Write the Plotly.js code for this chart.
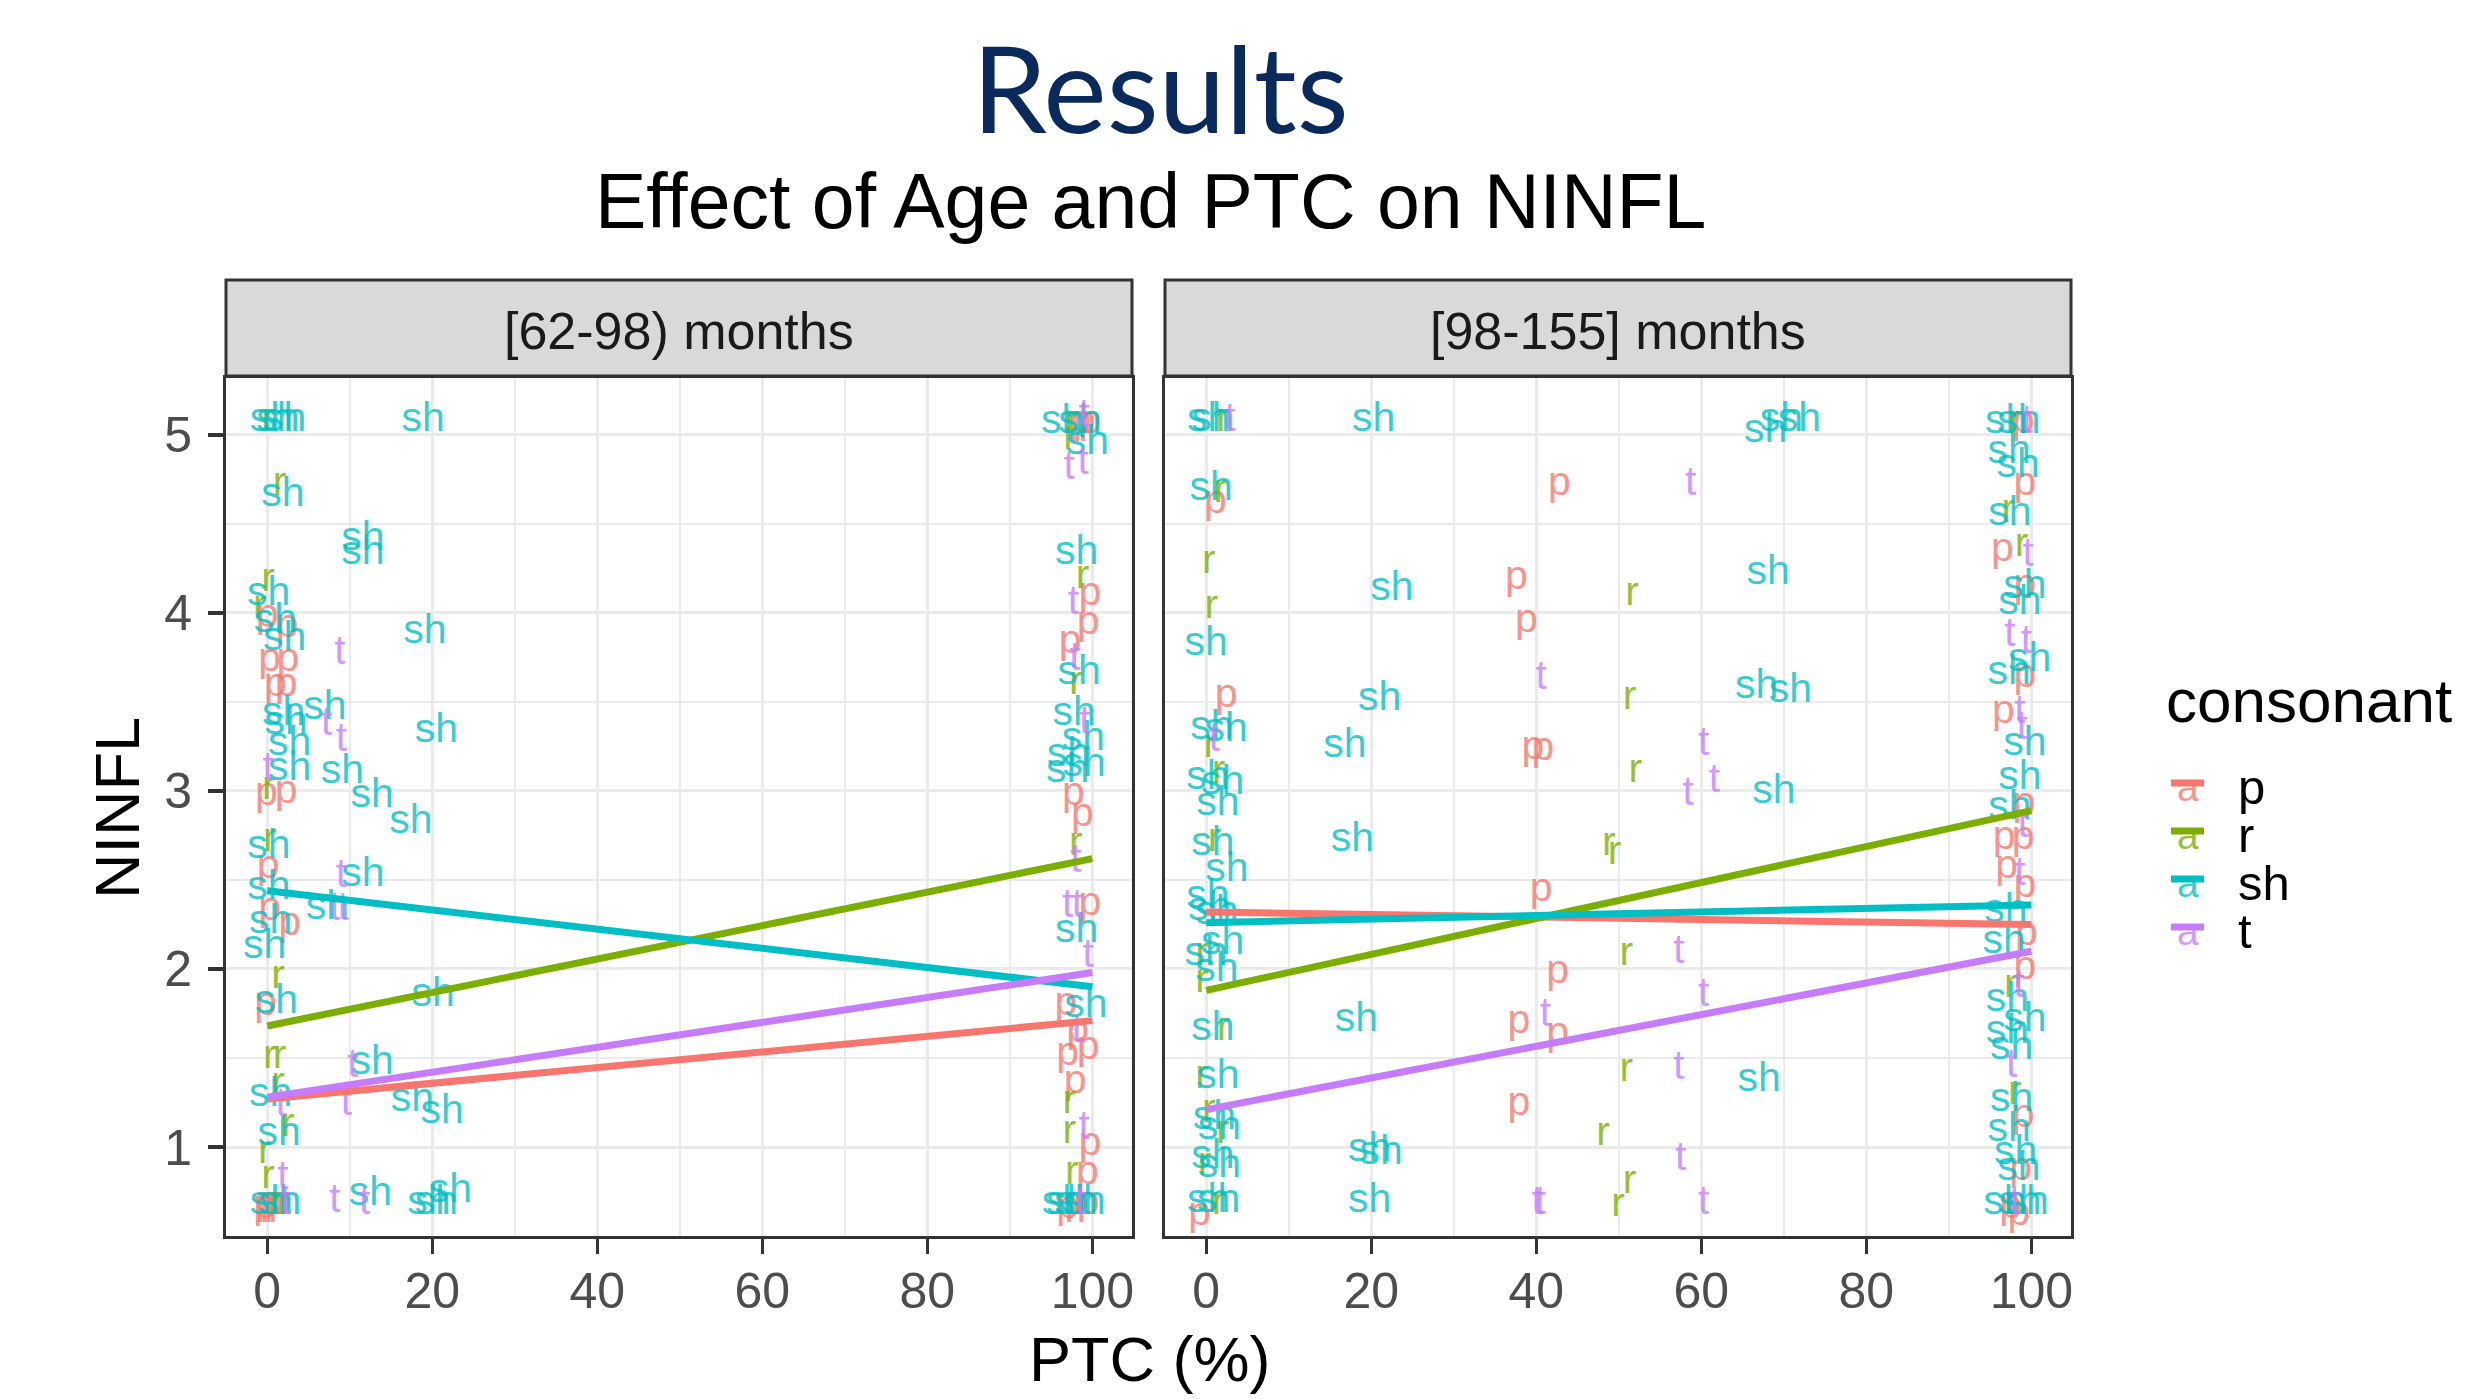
<!DOCTYPE html>
<html><head><meta charset="utf-8">
<script src="https://cdn.plot.ly/plotly-3.0.1.min.js"></script>
<style>html,body{margin:0;padding:0;background:#fff;} #chart{width:2473px;height:1399px;}</style>
</head><body><div id="chart"></div>
<script>
// ---------------- DATA ----------------
const consonants = ['p', 'r', 'sh', 't'];
const panelLabels = ['[62-98) months', '[98-155] months'];
const xTicks = [0, 20, 40, 60, 80, 100];
const yTicks = [1, 2, 3, 4, 5];

// Panel 1: [62-98) months
const young_p_x = [0, 2.4, 0.3, 2.5, 1.0, 2.3, -0.1, 2.3, 0.1, 0.3, 2.7, -0.2, 0, 1.0, -0.3, 0.5, 1.5, 99, 99.7, 98.5, 99.7, 99.5, 97.3, 97.7, 98.8, 99.7, 96.8, 98.2, 99.5, 97.0, 97.9, 99.7, 99.4, 98, 99.5, 97];
const young_p_y = [3.98, 3.92, 3.73, 3.73, 3.59, 3.59, 2.98, 2.99, 2.57, 2.33, 2.25, 1.80, 0.68, 0.68, 0.66, 0.68, 0.68, 5.07, 5.07, 5.07, 4.10, 3.94, 3.83, 2.98, 2.86, 2.36, 1.80, 1.65, 1.55, 1.52, 1.36, 1.01, 0.85, 0.68, 0.68, 0.66];
const young_r_x = [0.1, 1.5, 0.1, -0.9, 0.2, 0.3, 1.3, 0.3, 1.5, 1.3, 2.5, -0.3, 0.1, 1.0, 2.0, 97.5, 98.8, 98.0, 98.0, 97.2, 97.2, 97.5, 98.5, 97.3];
const young_r_y = [5.08, 4.72, 4.18, 4.03, 3.01, 2.72, 1.95, 1.50, 1.50, 1.35, 1.12, 0.97, 0.83, 0.68, 0.68, 5.07, 4.20, 3.60, 2.70, 1.25, 1.08, 0.85, 0.68, 4.98];
const young_sh_x = [0.5, 1.3, 2.1, 18.9, 1.9, 11.6, 11.6, 0.16, 1.0, 2.1, 19.1, 2.0, 2.3, 7.0, 2.7, 20.5, 2.7, 9.1, 12.7, 17.4, 0.2, 11.6, 0.2, 7.3, 0.4, -0.3, 1.1, 20.1, 12.7, 0.4, 17.6, 21.2, 1.45, 0.5, 1.5, 12.5, 19.6, 20.5, 22.2, 96.4, 98.5, 99.4, 98.1, 98.4, 97.8, 98.9, 97.1, 99.0, 97.0, 98.1, 99.2, 97.0, 98.0, 99.0, 96.5];
const young_sh_y = [5.08, 5.08, 5.08, 5.08, 4.66, 4.41, 4.33, 4.10, 3.95, 3.85, 3.89, 3.43, 3.38, 3.46, 3.26, 3.33, 3.12, 3.10, 2.97, 2.82, 2.68, 2.525, 2.45, 2.34, 2.26, 2.12, 1.81, 1.85, 1.47, 1.29, 1.26, 1.19, 1.07, 0.68, 0.68, 0.73, 0.68, 0.68, 0.75, 5.07, 5.07, 4.95, 4.33, 3.66, 3.43, 3.29, 3.20, 3.14, 3.11, 2.21, 1.79, 0.68, 0.68, 0.68, 0.68];
const young_t_x = [8.8, 7.2, 9.0, 0.1, 9.0, 8.2, 9.2, 10.4, 9.6, 1.7, 1.9, 8.2, 11.8, 2.2, 99.0, 97.2, 98.9, 97.7, 97.9, 99.1, 98.0, 97.0, 98.2, 99.5, 98.2, 99.0, 98.5];
const young_t_y = [3.77, 3.37, 3.28, 3.12, 2.52, 2.33, 2.33, 1.45, 1.24, 1.23, 0.82, 0.69, 0.68, 0.68, 5.10, 4.81, 4.84, 4.05, 3.74, 3.38, 2.60, 2.35, 2.35, 2.07, 1.65, 1.10, 0.68];

// Panel 2: [98-155] months
const old_p_x = [1.1, 2.4, -0.8, 42.8, 37.6, 38.8, 39.6, 40.8, 40.6, 42.6, 37.9, 42.6, 37.9, 99.0, 99.2, 96.5, 99.2, 99.2, 96.6, 99.1, 96.7, 99.0, 97.0, 99.2, 99.4, 99.2, 99.0, 98.7, 97.5, 98.5];
const old_p_y = [4.62, 3.53, 0.62, 4.72, 4.19, 3.95, 3.24, 3.23, 2.44, 1.98, 1.70, 1.63, 1.24, 5.07, 4.72, 4.35, 4.15, 3.64, 3.44, 2.92, 2.73, 2.73, 2.57, 2.46, 2.19, 2.00, 1.17, 0.87, 0.66, 0.62];
const old_r_x = [2.0, 1.7, 0.3, 0.6, 0.5, 1.5, 1.0, -0.5, -0.5, 2.1, -0.5, 0.3, 2.0, -0.2, 1.5, 51.6, 51.3, 52.0, 48.8, 49.5, 50.9, 50.9, 48.1, 51.3, 49.9, 98.0, 97.2, 98.8, 97.5, 98.0, 97.5];
const old_r_y = [5.08, 4.68, 4.28, 4.03, 3.25, 3.10, 2.72, 2.08, 1.93, 1.66, 1.39, 1.20, 1.08, 0.90, 0.68, 4.10, 3.52, 3.11, 2.70, 2.65, 2.08, 1.43, 1.07, 0.80, 0.67, 5.07, 4.57, 4.38, 1.90, 1.30, 0.68];
const old_sh_x = [0.3, 0.8, 20.3, 0.6, 22.5, 0, 21.0, 0.7, 2.4, 16.8, 0.2, 2.0, 1.4, 0.8, 17.7, 2.5, 0.2, 0.4, 1.3, 2.0, 0, 1.3, 0.8, 18.2, 1.4, 1.0, 1.6, 0.8, 1.6, 19.8, 21.2, 0.3, 1.5, 19.8,
  67.8, 69.7, 71.9, 68.1, 66.7, 70.8, 68.8, 67.0,
  97.0, 98.5, 97.3, 98.4, 97.4, 99.2, 98.6, 97.3, 99.8, 99.2, 98.6, 97.4, 96.9, 96.7, 97.1, 99.2, 97.1, 97.6, 97.6, 97.3, 98.1, 98.5, 96.8, 98.6, 99.5];
const old_sh_y = [5.08, 5.08, 5.08, 4.69, 4.13, 3.82, 3.51, 3.35, 3.34, 3.25, 3.07, 3.04, 2.92, 2.70, 2.72, 2.55, 2.40, 2.33, 2.31, 2.14, 2.08, 1.99, 1.66, 1.71, 1.39, 1.16, 1.10, 0.94, 0.89, 0.98, 0.96, 0.69, 0.69, 0.69,
  5.02, 5.08, 5.08, 4.22, 3.58, 3.56, 2.99, 1.37,
  5.07, 5.07, 4.90, 4.82, 4.55, 4.14, 4.05, 3.66, 3.73, 3.26, 3.07, 2.90, 2.32, 2.15, 1.82, 1.71, 1.64, 1.55, 1.26, 1.09, 0.96, 0.87, 0.68, 0.68, 0.68];
const old_t_x = [2.9, 1.0, 58.7, 40.6, 60.3, 58.4, 61.6, 57.3, 60.3, 41.1, 57.3, 57.5, 40.1, 40.5, 60.3, 99.5, 99.6, 97.4, 99.4, 98.9, 98.6, 98.6, 97.6, 98.0, 99.0, 98.5];
const old_t_y = [5.08, 3.28, 4.72, 3.63, 3.26, 2.98, 3.05, 2.09, 1.85, 1.74, 1.44, 0.93, 0.68, 0.68, 0.68, 5.07, 4.32, 3.87, 3.83, 3.35, 3.44, 2.53, 1.45, 0.68, 2.80, 1.90];

// Fitted linear trends (p, r, sh, t) at PTC = fitX[0] and fitX[1]
const fitX = [0, 100];
const young_fit_start = [1.27, 1.68, 2.44, 1.28];
const young_fit_end   = [1.71, 2.62, 1.90, 1.98];
const old_fit_start   = [2.32, 1.88, 2.26, 1.21];
const old_fit_end     = [2.25, 2.89, 2.36, 2.10];

// ---------------- STYLE ----------------
const W = 2473, H = 1399;
const FONT = 'Liberation Sans, Arial, sans-serif';
const COLORS = {p: '#F8766D', r: '#7CAE00', sh: '#00BFC4', t: '#C77CFF'};
const ALPHA = {p: 'rgba(248,118,109,0.8)', r: 'rgba(124,174,0,0.8)', sh: 'rgba(0,191,196,0.8)', t: 'rgba(199,124,255,0.8)'};
const px = v => v / W;
const py = v => 1 - v / H;

const panelX = [[226, 1132], [1165, 2071]];
const panelTop = 378, panelBottom = 1236;
const stripTop = 280, stripBottom = 376;

const panelData = [
  {p: [young_p_x, young_p_y], r: [young_r_x, young_r_y], sh: [young_sh_x, young_sh_y], t: [young_t_x, young_t_y], start: young_fit_start, end: young_fit_end},
  {p: [old_p_x, old_p_y], r: [old_r_x, old_r_y], sh: [old_sh_x, old_sh_y], t: [old_t_x, old_t_y], start: old_fit_start, end: old_fit_end}
];

const traces = [];
panelData.forEach((pd, i) => {
  const xa = i === 0 ? 'x' : 'x2', ya = i === 0 ? 'y' : 'y2';
  consonants.forEach(c => {
    traces.push({
      type: 'scatter', mode: 'text', x: pd[c][0], y: pd[c][1],
      text: pd[c][0].map(() => c), textposition: 'middle center',
      textfont: {family: FONT, size: 41, color: ALPHA[c]},
      xaxis: xa, yaxis: ya, hoverinfo: 'skip', showlegend: false, cliponaxis: true
    });
  });
});
panelData.forEach((pd, i) => {
  const xa = i === 0 ? 'x' : 'x2', ya = i === 0 ? 'y' : 'y2';
  consonants.forEach((c, k) => {
    traces.push({
      type: 'scatter', mode: 'lines', x: fitX, y: [pd.start[k], pd.end[k]],
      line: {color: COLORS[c], width: 7},
      xaxis: xa, yaxis: ya, hoverinfo: 'skip', showlegend: false
    });
  });
});

const xRange = [-5.0, 104.8];
const yRange = [0.50, 5.32];
function xAxis(i) {
  return {
    domain: [px(panelX[i][0]), px(panelX[i][1])], range: xRange, anchor: i === 0 ? 'y' : 'y2',
    tickmode: 'array', tickvals: xTicks, ticktext: xTicks.map(String),
    ticks: 'outside', ticklen: 15, tickwidth: 3.5, tickcolor: '#333333',
    tickfont: {family: FONT, size: 50, color: '#4D4D4D'}, ticklabelstandoff: -6,
    showgrid: true, gridcolor: '#EBEBEB', gridwidth: 3,
    minor: {dtick: 10, tick0: 0, showgrid: true, gridcolor: '#EBEBEB', gridwidth: 1.5, ticks: ''},
    showline: true, mirror: true, linecolor: '#333333', linewidth: 3, zeroline: false, fixedrange: true
  };
}
function yAxis(i) {
  return {
    domain: [py(panelBottom), py(panelTop)], range: yRange, anchor: i === 0 ? 'x' : 'x2',
    tickmode: 'array', tickvals: yTicks, ticktext: yTicks.map(String),
    ticks: i === 0 ? 'outside' : '', ticklen: 15, tickwidth: 3.5, tickcolor: '#333333',
    showticklabels: i === 0,
    tickfont: {family: FONT, size: 50, color: '#4D4D4D'}, ticklabelstandoff: 6,
    showgrid: true, gridcolor: '#EBEBEB', gridwidth: 3,
    minor: {dtick: 0.5, tick0: 0.5, showgrid: true, gridcolor: '#EBEBEB', gridwidth: 1.5, ticks: ''},
    showline: true, mirror: true, linecolor: '#333333', linewidth: 3, zeroline: false, fixedrange: true
  };
}

const shapes = [];
const annotations = [];
panelX.forEach((pxr, i) => {
  shapes.push({type: 'rect', xref: 'paper', yref: 'paper', x0: px(pxr[0]), x1: px(pxr[1]), y0: py(stripBottom), y1: py(stripTop),
    fillcolor: '#D9D9D9', line: {color: '#333333', width: 3}, layer: 'above'});
  annotations.push({xref: 'paper', yref: 'paper', x: px((pxr[0] + pxr[1]) / 2), y: py((stripTop + stripBottom) / 2 + 3),
    xanchor: 'center', yanchor: 'middle', showarrow: false, text: panelLabels[i],
    font: {family: FONT, size: 52, color: '#1A1A1A'}});
});

// titles
annotations.push({xref: 'paper', yref: 'paper', x: px(1160), y: py(87), xanchor: 'center', yanchor: 'middle', showarrow: false,
  text: 'Results', font: {family: 'Lato, Carlito, Calibri, sans-serif', size: 120, color: '#0B2A5C'}});
annotations.push({xref: 'paper', yref: 'paper', x: px(1150), y: py(201), xanchor: 'center', yanchor: 'middle', showarrow: false,
  text: 'Effect of Age and PTC on NINFL', font: {family: FONT, size: 77, color: '#000000'}});
annotations.push({xref: 'paper', yref: 'paper', x: px(1149), y: py(1359), xanchor: 'center', yanchor: 'middle', showarrow: false,
  text: 'PTC (%)', font: {family: FONT, size: 63, color: '#000000'}});
annotations.push({xref: 'paper', yref: 'paper', x: px(117), y: py(808), xanchor: 'center', yanchor: 'middle', showarrow: false,
  textangle: -90, text: 'NINFL', font: {family: FONT, size: 63, color: '#000000'}});

// legend (drawn manually, ggplot style)
annotations.push({xref: 'paper', yref: 'paper', x: px(2164), y: py(700), xanchor: 'left', yanchor: 'middle', showarrow: false,
  text: 'consonant', font: {family: FONT, size: 62, color: '#000000'}});
consonants.forEach((c, k) => {
  const yc = 783 + 48 * k;
  shapes.push({type: 'line', xref: 'paper', yref: 'paper', x0: px(2171), x1: px(2204), y0: py(yc), y1: py(yc),
    line: {color: COLORS[c], width: 7}});
  annotations.push({xref: 'paper', yref: 'paper', x: px(2187.5), y: py(yc + 4), xanchor: 'center', yanchor: 'middle', showarrow: false,
    text: 'a', font: {family: FONT, size: 39, color: ALPHA[c]}});
  annotations.push({xref: 'paper', yref: 'paper', x: px(2236), y: py(yc + 4), xanchor: 'left', yanchor: 'middle', showarrow: false,
    text: c, font: {family: FONT, size: 49, color: '#000000'}});
});

const layout = {
  width: W, height: H, margin: {l: 0, r: 0, t: 0, b: 0},
  paper_bgcolor: '#FFFFFF', plot_bgcolor: '#FFFFFF', showlegend: false,
  xaxis: xAxis(0), yaxis: yAxis(0), xaxis2: xAxis(1), yaxis2: yAxis(1),
  shapes: shapes, annotations: annotations,
  font: {family: FONT}
};

Plotly.newPlot('chart', traces, layout, {staticPlot: true, displayModeBar: false});
</script></body></html>
